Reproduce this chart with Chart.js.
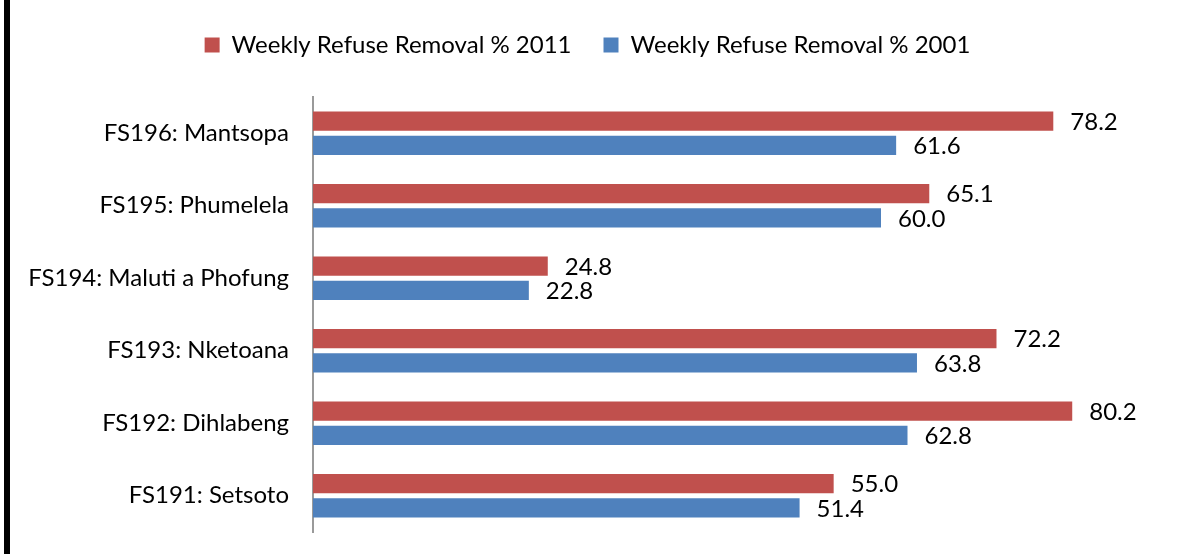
<!DOCTYPE html>
<html>
<head>
<meta charset="utf-8">
<script src="https://cdn.jsdelivr.net/npm/chart.js@4/dist/chart.umd.min.js"></script>
<style>
  body { margin: 0; background: #fff; }
  #wrap { width: 1186px; height: 554px; }
</style>
</head>
<body>
<div id="wrap"><canvas id="bar-chart" width="1186" height="554"></canvas></div>
<script>
// municipalities, top to bottom
const categories = [
    'FS196: Mantsopa',
    'FS195: Phumelela',
    'FS194: Maluti a Phofung',
    'FS193: Nketoana',
    'FS192: Dihlabeng',
    'FS191: Setsoto'
];
const removal2011 = [78.2, 65.1, 24.8, 72.2, 80.2, 55.0];
const removal2001 = [61.6, 60.0, 22.8, 63.8, 62.8, 51.4];
const seriesNames = ['Weekly Refuse Removal % 2011', 'Weekly Refuse Removal % 2001'];

const FONT = 'Lato, "Open Sans", sans-serif';

// value labels at the end of each bar
const valueLabels = {
    id: 'valueLabels',
    afterDatasetsDraw(chart) {
        const ctx = chart.ctx;
        ctx.save();
        ctx.font = '24px ' + FONT;
        ctx.fillStyle = '#000';
        ctx.textAlign = 'left';
        ctx.textBaseline = 'middle';
        chart.data.datasets.forEach((ds, i) => {
            chart.getDatasetMeta(i).data.forEach((bar, j) => {
                ctx.fillText(ds.data[j].toFixed(1), bar.x + 17, bar.y + 1);
            });
        });
        ctx.restore();
    }
};

// white page with the black left frame line
const frame = {
    id: 'frame',
    beforeDraw(chart) {
        const ctx = chart.ctx;
        ctx.save();
        ctx.fillStyle = '#fff';
        ctx.fillRect(0, 0, chart.width, chart.height);
        ctx.fillStyle = '#000';
        ctx.fillRect(4, 0, 6, chart.height);
        ctx.restore();
    }
};

// more room under the legend
const legendGap = {
    id: 'legendGap',
    beforeInit(chart) {
        const fit = chart.legend.fit;
        chart.legend.fit = function () {
            fit.call(this);
            this.height += 30;
        };
    }
};

function createBarChart() {
    const ctx = document.getElementById('bar-chart').getContext('2d');
    new Chart(ctx, {
        type: 'bar',
        data: {
            labels: categories,
            datasets: [{
                label: seriesNames[0],
                data: removal2011,
                backgroundColor: '#C0504D'
            }, {
                label: seriesNames[1],
                data: removal2001,
                backgroundColor: '#4F81BD'
            }]
        },
        options: {
            indexAxis: 'y',
            responsive: false,
            animation: false,
            layout: { padding: { left: 10, right: 21, top: 1, bottom: 22 } },
            categoryPercentage: 0.67,
            barPercentage: 0.8,
            scales: {
                x: { display: false, min: 0, max: 90 },
                y: {
                    grid: { display: false, drawTicks: false },
                    border: { display: true, color: '#9a9a9a', width: 2 },
                    ticks: { color: '#000', font: { family: FONT, size: 24 }, padding: 24 },
                    afterFit(scale) {
                        scale.width = 303;
                        scale.paddingTop = 0;
                        scale.paddingBottom = 0;
                    }
                }
            },
            plugins: {
                legend: {
                    position: 'top',
                    labels: {
                        color: '#000',
                        font: { family: FONT, size: 24 },
                        boxWidth: 15,
                        boxHeight: 15,
                        padding: 32
                    }
                },
                tooltip: { enabled: false }
            }
        },
        plugins: [frame, legendGap, valueLabels]
    });
}

window.addEventListener('DOMContentLoaded', createBarChart);
</script>
</body>
</html>
